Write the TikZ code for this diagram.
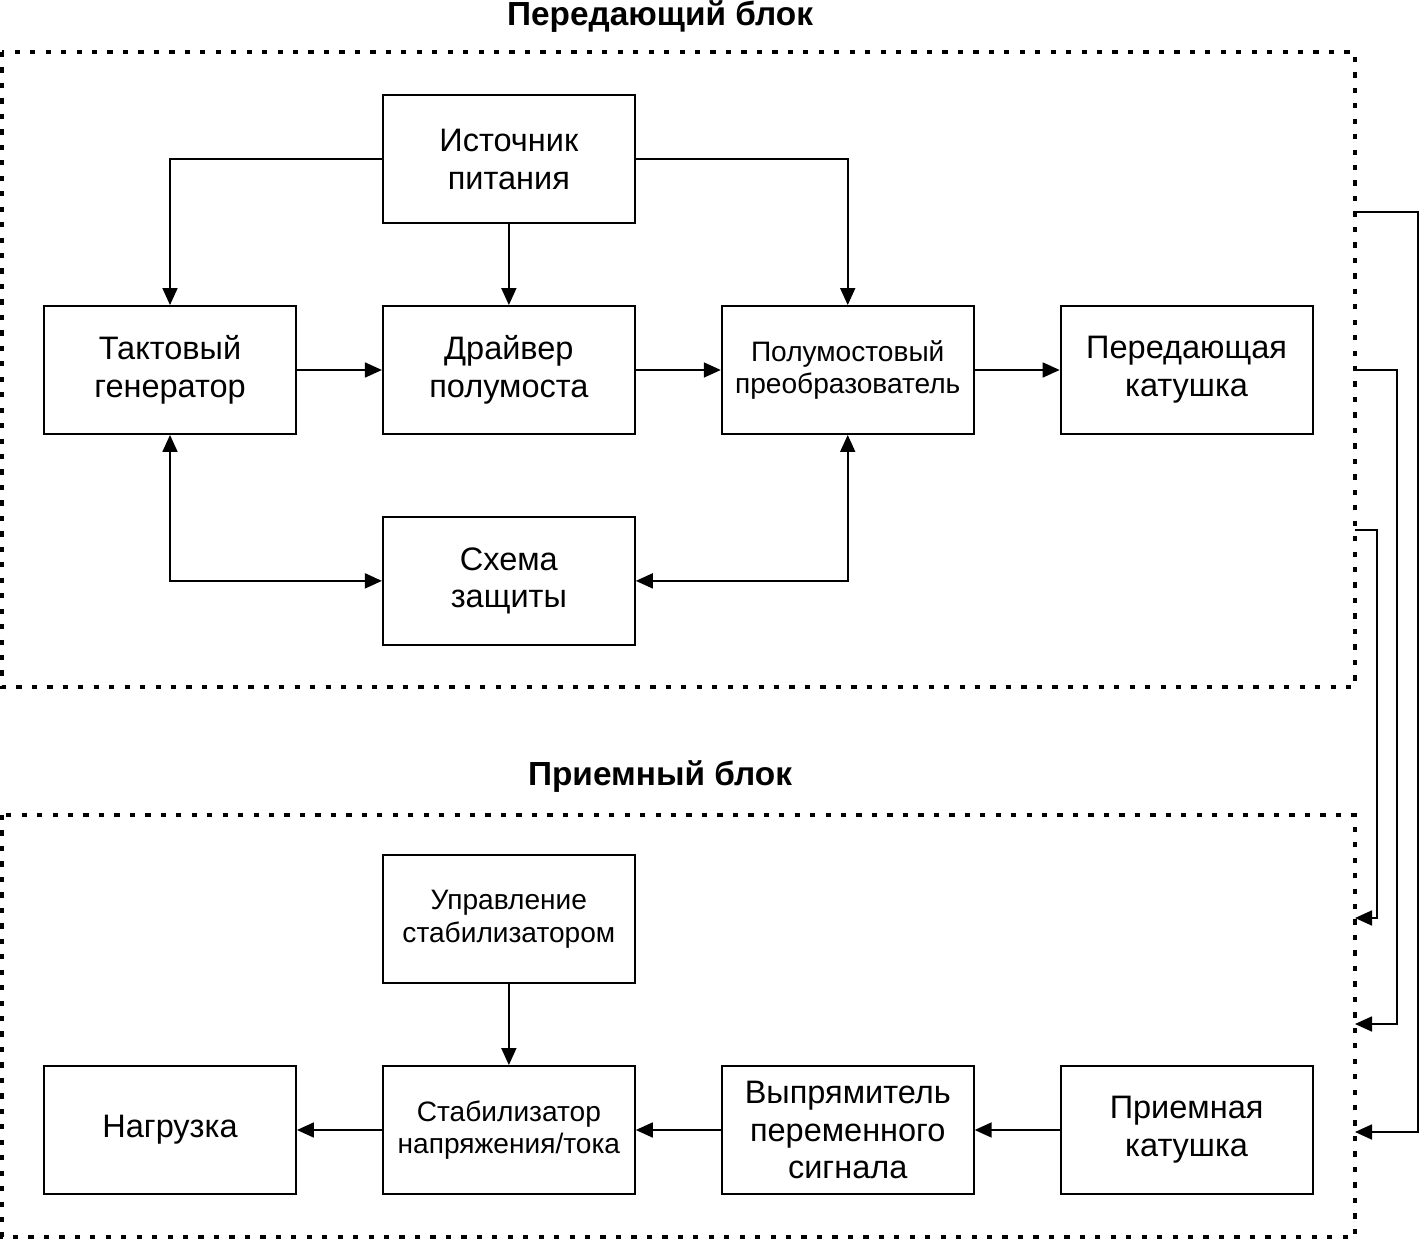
\documentclass[tikz,border=0pt]{standalone}
\usepackage{fontspec}
\setmainfont{Liberation Sans}
\usetikzlibrary{positioning, arrows.meta}

\begin{document}
\begin{tikzpicture}[
		x=0.02cm, y=-0.02cm,
		node distance=1.62cm and 1.70cm,
		box/.style={draw, rectangle, minimum width=5.04cm, minimum height=2.56cm, align=center, line width=1.1pt, font=\fontsize{18.5}{21.5}\selectfont},
		smallbox/.style={box, font=\fontsize{16}{18.5}\selectfont},
		frame/.style={draw, line width=1.8pt, dash pattern=on 3pt off 5.8pt},
		title/.style={font=\fontsize{19}{22}\selectfont\bfseries},
		arrow/.style={-{Triangle[length=3.4mm, width=3mm]}, line width=1pt},
		dblarrow/.style={{Triangle[length=3.4mm, width=3mm]}-{Triangle[length=3.4mm, width=3mm]}, line width=1pt}
		]
		\useasboundingbox (0,0) rectangle (1420,1239);
		
		% Frames
		\draw[frame] (2,52) rectangle (1355,687);
		\draw[frame] (2,815) rectangle (1355,1237);
		\node[title] (txtitle) at (660,17) {Передающий блок};
		\node[title] (rxtitle) at (660,777) {Приемный блок};
		
		% Nodes
		\node[box] (gen) at (170,370) {Тактовый\\генератор};
		
		\node[box, right=of gen] (drv) {Драйвер\\полумоста};
		
		\node[smallbox, right=of drv] (conv) {Полумостовый\\преобразователь};
		
		\node[box, right=of conv] (txcoil) {Передающая\\катушка};
		
		\node[box, above=of drv] (src) {Источник\\питания};
		
		\node[box, below=of drv] (prot) {Схема\\защиты};
		
		\node[box] (load) at (170,1130) {Нагрузка};
		
		\node[smallbox, right=of load] (stab) {Стабилизатор\\напряжения/тока};
		
		\node[box, right=of stab] (rect) {Выпрямитель\\переменного\\сигнала};
		
		\node[box, right=of rect] (rxcoil) {Приемная\\катушка};
		
		\node[smallbox, above=of stab] (ctrl) {Управление\\стабилизатором};
		
		% Frame ports
		\coordinate (out1) at (1355,212);
		\coordinate (out2) at (1355,370);
		\coordinate (out3) at (1355,530);
		\coordinate (in1) at (1355,1132);
		\coordinate (in2) at (1355,1024);
		\coordinate (in3) at (1355,918);
		
		% Arrows
		\draw[arrow] (src.west) -| (gen.north);
		\draw[arrow] (src) -- (drv);
		\draw[arrow] (src.east) -| (conv.north);
		
		\draw[arrow] (gen) -- (drv);
		\draw[arrow] (drv) -- (conv);
		\draw[arrow] (conv) -- (txcoil);
		
		\draw[dblarrow] (gen.south) |- (prot.west);
		\draw[dblarrow] (conv.south) |- (prot.east);
		
		\draw[arrow] (ctrl) -- (stab);
		\draw[arrow] (rxcoil) -- (rect);
		\draw[arrow] (rect) -- (stab);
		\draw[arrow] (stab) -- (load);
		
		\draw[arrow] (out1) -- ++(63,0) |- (in1);
		\draw[arrow] (out2) -- ++(42,0) |- (in2);
		\draw[arrow] (out3) -- ++(22,0) |- (in3);
		
	\end{tikzpicture}
\end{document}
